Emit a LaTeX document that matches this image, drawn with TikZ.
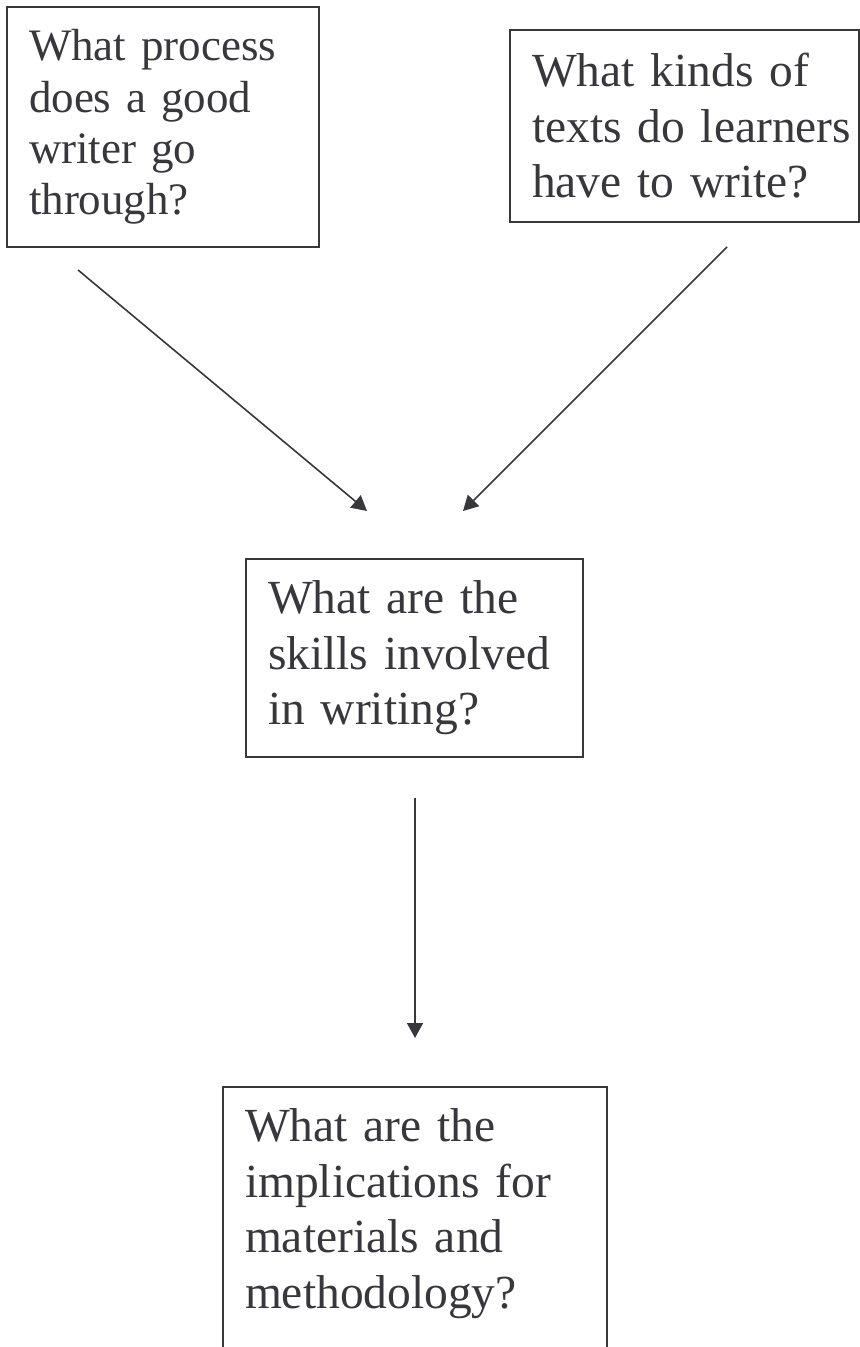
\documentclass[tikz,border=0pt]{standalone}
\usepackage{fontspec}
\setmainfont{Liberation Serif}
\usetikzlibrary{arrows.meta}
\definecolor{ink}{RGB}{55,55,60}

\begin{document}
\begin{tikzpicture}[x=0.5pt, y=-0.5pt, question node/.style={draw=ink, text=ink, line width=1pt, anchor=north west, outer sep=0pt, inner sep=11pt, align=left, font=\fontsize{23.75pt}{27.75pt}\selectfont}, link/.style={-{Triangle[length=7.5pt,width=8pt]}, color=ink, line width=0.8pt}]

\useasboundingbox (0,0) rectangle (860,1347);

\node[question node, text width=134pt, minimum height=120pt, font=\fontsize{22.5pt}{25.65pt}\selectfont] (q0) at (7,7) {What process\\does a good\\writer go\\through?};
\node[question node, text width=152.5pt, minimum height=96pt] (q1) at (510,30) {What kinds of\\\mbox{texts do learners}\\have to write?};
\node[question node, text width=146.5pt, minimum height=96pt] (q2) at (246,559) {What are the\\skills involved\\in writing?};
\node[question node, text width=170pt, text depth=103pt] (q3) at (223,1087) {What are the\\implications for\\materials and\\methodology?};

\coordinate (s0) at (78,270);
\coordinate (t0) at (367,511);
\coordinate (s1) at (727,247);
\coordinate (t1) at (463,511);
\coordinate (s2) at (415,798);
\coordinate (t2) at (415,1038);

\path[] (s0) edge[link] (t0);
\path[] (s1) edge[link] (t1);
\path[] (s2) edge[link] (t2);
\end{tikzpicture}
\end{document}
